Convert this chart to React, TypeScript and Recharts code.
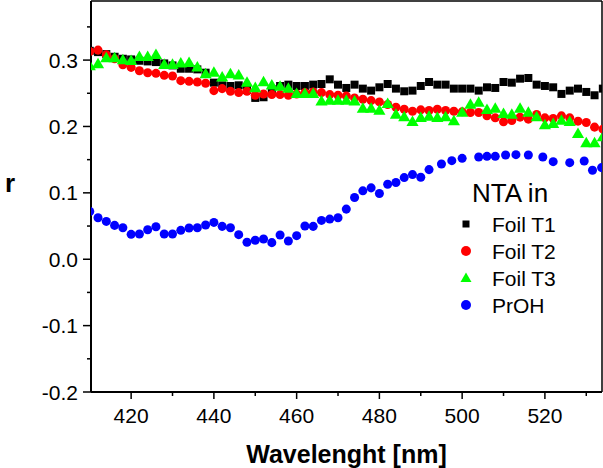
import { Legend, ReferenceLine, Scatter, ScatterChart, XAxis, YAxis } from "recharts";

const FONT = "'Liberation Sans', Arial, sans-serif";

// wavelength grid shared by the three foil series
const wavelengths = [
  410, 412, 414, 416, 418, 420, 422, 424, 426, 428, 430, 432, 434, 436, 438, 440, 442, 444, 446, 448, 450,
  452, 454, 456, 458, 460, 462, 464, 466, 468, 470, 472, 474, 476, 478, 480, 482, 484, 486, 488, 490, 492,
  494, 496, 498, 500, 502, 504, 506, 508, 510, 512, 514, 516, 518, 520, 522, 524, 526, 528, 530, 532, 534,
];

const foilT1 = [
  0.314, 0.312, 0.309, 0.305, 0.302, 0.301, 0.299, 0.298, 0.297, 0.295,
  0.292, 0.287, 0.287, 0.286, 0.281, 0.266, 0.262, 0.261, 0.262, 0.255,
  0.243, 0.244, 0.256, 0.261, 0.263, 0.261, 0.261, 0.263, 0.264, 0.271,
  0.263, 0.258, 0.263, 0.257, 0.254, 0.259, 0.264, 0.257, 0.253, 0.254,
  0.261, 0.267, 0.263, 0.263, 0.257, 0.257, 0.257, 0.254, 0.259, 0.258,
  0.267, 0.266, 0.272, 0.273, 0.263, 0.261, 0.259, 0.249, 0.254, 0.257,
  0.252, 0.247, 0.257,
];

const foilT2 = [
  0.313, 0.315, 0.308, 0.302, 0.293, 0.289, 0.284, 0.281, 0.28, 0.277,
  0.276, 0.269, 0.268, 0.267, 0.265, 0.254, 0.257, 0.253, 0.251, 0.253,
  0.247, 0.249, 0.248, 0.248, 0.247, 0.249, 0.251, 0.252, 0.251, 0.248,
  0.247, 0.246, 0.243, 0.241, 0.239, 0.237, 0.233, 0.229, 0.226, 0.223,
  0.225, 0.224, 0.226, 0.224, 0.223, 0.222, 0.221, 0.221, 0.216, 0.213,
  0.207, 0.209, 0.214, 0.211, 0.218, 0.213, 0.212, 0.216, 0.213, 0.208,
  0.206, 0.199, 0.196,
];

const foilT3 = [
  0.29, 0.293, 0.302, 0.302, 0.299, 0.298, 0.304, 0.304, 0.307, 0.292,
  0.292, 0.294, 0.295, 0.288, 0.278, 0.28, 0.273, 0.278, 0.276, 0.265,
  0.257, 0.266, 0.261, 0.259, 0.256, 0.248, 0.248, 0.248, 0.237, 0.238,
  0.238, 0.238, 0.237, 0.226, 0.226, 0.223, 0.233, 0.217, 0.213, 0.206,
  0.212, 0.214, 0.212, 0.213, 0.207, 0.22, 0.232, 0.235, 0.224, 0.226,
  0.218, 0.217, 0.226, 0.22, 0.213, 0.201, 0.203, 0.208, 0.206, 0.188,
  0.174, 0.174, 0.183,
];

// PrOH has its own (irregular at the red end) wavelength points
const prohWavelengths = [
  410, 412, 414, 416, 418, 420, 422, 424, 426, 428, 430, 432, 434, 436, 438, 440, 442, 444, 446, 448, 450,
  452, 454, 456, 458, 460, 462, 464, 466, 468, 470, 472, 474, 476, 478, 480, 482, 484, 486, 488, 490, 492,
  495, 497.5, 500, 504, 506, 508, 510.5, 513, 516, 519.5, 522, 526, 529.5, 531.5, 533.7,
];

const prohValues = [
  0.072, 0.0625, 0.057, 0.051, 0.0475, 0.0375, 0.038, 0.0445, 0.049, 0.038, 0.038,
  0.0435, 0.047, 0.0475, 0.0515, 0.0555, 0.0495, 0.0475, 0.037, 0.0255, 0.0285,
  0.0305, 0.025, 0.0365, 0.0275, 0.0355, 0.05, 0.0495, 0.0585, 0.0605, 0.0625,
  0.0755, 0.093, 0.103, 0.1075, 0.099, 0.113, 0.1155, 0.123, 0.1275, 0.1235, 0.135,
  0.1435, 0.1485, 0.152, 0.154, 0.155, 0.155, 0.157, 0.1575, 0.157, 0.154, 0.147,
  0.1455, 0.148, 0.134, 0.138,
];

const xMajor = [420, 440, 460, 480, 500, 520];
const xMinor = [430, 450, 470, 490, 510, 530];
const yMajor = [-0.2, -0.1, 0, 0.1, 0.2, 0.3];
const yMinor = [-0.15, -0.05, 0.05, 0.15, 0.25, 0.35];

const X_DOMAIN: [number, number] = [410.3, 533.8];
const Y_DOMAIN: [number, number] = [-0.2, 0.389];

const toPoints = (xs: number[], ys: number[]) => xs.map((x, i) => ({ x, y: ys[i] }));

const series = [
  { name: "Foil T1", color: "#000000", shape: "square", data: toPoints(wavelengths, foilT1) },
  { name: "Foil T2", color: "#ff0000", shape: "circle", data: toPoints(wavelengths, foilT2) },
  { name: "Foil T3", color: "#00ff00", shape: "triangle", data: toPoints(wavelengths, foilT3) },
  { name: "PrOH", color: "#0000ff", shape: "circle", data: toPoints(prohWavelengths, prohValues) },
] as const;

function XTick(props: any) {
  const { x, y, payload } = props;
  const major = xMajor.includes(payload.value);
  return (
    <g>
      <line x1={x} x2={x} y1={y} y2={y + (major ? 7 : 4)} stroke="#000" strokeWidth={1.5} />
      {major && (
        <text x={x} y={y + 31} textAnchor="middle" fontSize={21} fontFamily={FONT} fill="#000">
          {payload.value}
        </text>
      )}
    </g>
  );
}

function YTick(props: any) {
  const { x, y, payload } = props;
  const major = yMajor.some((v) => Math.abs(v - payload.value) < 1e-9);
  return (
    <g>
      <line x1={x - (major ? 8 : 4)} x2={x} y1={y} y2={y} stroke="#000" strokeWidth={1.5} />
      {major && (
        <text x={x - 13} y={y + 7.5} textAnchor="end" fontSize={21} fontFamily={FONT} fill="#000">
          {Number(payload.value).toFixed(1)}
        </text>
      )}
    </g>
  );
}

function LegendMarker({ shape, color, cx, cy }: { shape: string; color: string; cx: number; cy: number }) {
  if (shape === "square") return <rect x={cx - 3.5} y={cy - 3.5} width={7} height={7} fill={color} />;
  if (shape === "triangle")
    return <polygon points={`${cx},${cy - 5.5} ${cx + 5.5},${cy + 4} ${cx - 5.5},${cy + 4}`} fill={color} />;
  return <circle cx={cx} cy={cy} r={5} fill={color} />;
}

function LegendBox() {
  return (
    <svg width={160} height={150} style={{ display: "block" }}>
      <text x={32} y={32} fontSize={26} fontFamily={FONT} fill="#000">
        NTA in
      </text>
      {series.map((s, i) => (
        <g key={s.name}>
          <LegendMarker shape={s.shape} color={s.color} cx={26} cy={54 + i * 27} />
          <text x={52} y={61.5 + i * 27} fontSize={21} fontFamily={FONT} fill="#000">
            {s.name}
          </text>
        </g>
      ))}
    </svg>
  );
}

export default function App() {
  return (
    <div style={{ position: "absolute", left: 0, top: 0, width: 603, height: 468, background: "#fff" }}>
      <ScatterChart width={603} height={468} margin={{ top: 1, right: 1, bottom: 0, left: 0 }}>
        <XAxis
          type="number"
          dataKey="x"
          domain={X_DOMAIN}
          allowDataOverflow
          ticks={[...xMajor, ...xMinor].sort((a, b) => a - b)}
          interval={0}
          tickSize={0}
          tickMargin={0}
          tickLine={false}
          tick={<XTick />}
          height={76}
          axisLine={{ stroke: "#000", strokeWidth: 2 }}
          label={{
            value: "Wavelenght [nm]",
            position: "insideBottom",
            offset: 5,
            style: { fontSize: 25, fontWeight: "bold", fontFamily: FONT, fill: "#000" },
          }}
        />
        <YAxis
          type="number"
          dataKey="y"
          domain={Y_DOMAIN}
          allowDataOverflow
          ticks={[...yMajor, ...yMinor].sort((a, b) => a - b)}
          interval={0}
          tickSize={0}
          tickMargin={0}
          tickLine={false}
          tick={<YTick />}
          width={91}
          axisLine={{ stroke: "#000", strokeWidth: 2 }}
          label={{
            content: () => (
              <text x={5} y={192} fontSize={26} fontWeight="bold" fontFamily={FONT} fill="#000">
                r
              </text>
            ),
          }}
        />
        <ReferenceLine y={Y_DOMAIN[1]} stroke="#000" strokeWidth={1.5} />
        <ReferenceLine x={X_DOMAIN[1]} stroke="#000" strokeWidth={1.5} />
        {series.map((s) => (
          <Scatter
            key={s.name}
            name={s.name}
            data={s.data as any}
            fill={s.color}
            shape={s.shape as any}
            isAnimationActive={false}
          />
        ))}
        <Legend
          layout="vertical"
          align="center"
          verticalAlign="middle"
          wrapperStyle={{ left: 440, top: 170, width: 160 }}
          content={() => <LegendBox />}
        />
      </ScatterChart>
    </div>
  );
}
